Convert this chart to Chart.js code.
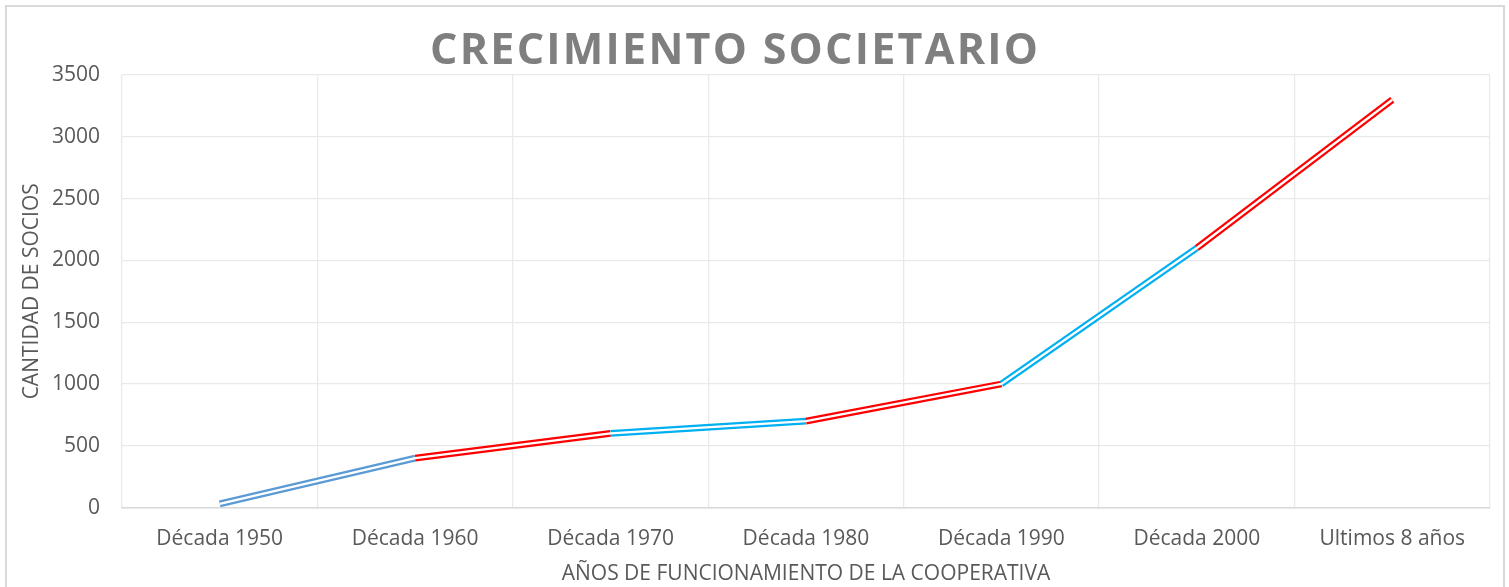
<!DOCTYPE html>
<html lang="es">
<head>
<meta charset="utf-8">
<title>Crecimiento societario</title>
<script src="https://cdn.jsdelivr.net/npm/chart.js@4.4.1/dist/chart.umd.min.js"></script>
<style>
    html, body {
        margin: 0;
        padding: 0;
        background: #ffffff;
        overflow: hidden;
    }
    #marco {
        position: absolute;
        left: 5px;
        top: 5px;
        width: 1496px;
        height: 600px;
        border: 2px solid #d9d9d9;
    }
    #contenedor {
        position: absolute;
        left: 0;
        top: 0;
        width: 1509px;
        height: 587px;
    }
</style>
</head>
<body>
<div id="marco"></div>
<div id="contenedor"><canvas id="graficoSocios"></canvas></div>
<script>
const titulo = 'CRECIMIENTO SOCIETARIO';
const categorias = ['Década 1950', 'Década 1960', 'Década 1970', 'Década 1980', 'Década 1990', 'Década 2000', 'Ultimos 8 años'];
const socios = [30, 400, 600, 700, 1000, 2100, 3300];
// color de cada tramo entre dos puntos
const coloresTramo = ['#5B9BD5', '#FF0000', '#00B0F0', '#FF0000', '#00B0F0', '#FF0000'];
const ejeY = { min: 0, max: 3500, paso: 500 };

const fuente = '"Open Sans", "DejaVu Sans", sans-serif';

// Título con letras espaciadas, ajustado a un ancho fijo
const tituloPlugin = {
    id: 'tituloEspaciado',
    afterDraw(chart) {
        const ctx = chart.ctx;
        ctx.save();
        ctx.font = 'bold 43px ' + fuente;
        ctx.fillStyle = '#7f7f7f';
        ctx.textBaseline = 'alphabetic';
        ctx.textAlign = 'left';
        ctx.letterSpacing = '0px';
        const ancho = ctx.measureText(titulo).width;
        const espacio = Math.max(0, (608 - ancho) / (titulo.length - 1));
        ctx.letterSpacing = espacio + 'px';
        ctx.fillText(titulo, 430, 64);
        ctx.restore();
    }
};

const ctx = document.getElementById('graficoSocios').getContext('2d');
new Chart(ctx, {
    type: 'line',
    data: {
        labels: categorias,
        datasets: [
            {
                // línea blanca interior: da el efecto de línea doble
                label: 'interior',
                data: socios,
                borderColor: '#ffffff',
                borderWidth: 2.3,
                pointRadius: 0,
                tension: 0,
                order: 0
            },
            {
                label: 'Socios',
                data: socios,
                borderWidth: 6.8,
                borderCapStyle: 'butt',
                pointRadius: 0,
                tension: 0,
                order: 1,
                segment: {
                    borderColor: c => coloresTramo[c.p0DataIndex]
                }
            }
        ]
    },
    options: {
        responsive: true,
        maintainAspectRatio: false,
        animation: false,
        layout: {
            padding: { top: 75, right: 19, bottom: 0, left: 19 }
        },
        plugins: {
            legend: { display: false },
            tooltip: { enabled: false }
        },
        scales: {
            x: {
                offset: true,
                grid: {
                    offset: true,
                    color: '#e9e9e9',
                    lineWidth: 1.3,
                    drawTicks: false
                },
                border: { color: '#d9d9d9', width: 1.5 },
                ticks: {
                    color: '#595959',
                    font: { family: fuente, size: 21 },
                    padding: 19
                },
                title: {
                    display: true,
                    text: 'AÑOS DE FUNCIONAMIENTO DE LA COOPERATIVA',
                    color: '#595959',
                    font: { family: fuente, size: 21 },
                    padding: { top: -9, bottom: 0 }
                }
            },
            y: {
                min: ejeY.min,
                max: ejeY.max,
                afterFit(scale) {
                    scale.width = 103;
                },
                grid: {
                    color: '#e9e9e9',
                    lineWidth: 1.3,
                    drawTicks: false
                },
                border: { display: false },
                ticks: {
                    stepSize: ejeY.paso,
                    color: '#595959',
                    font: { family: fuente, size: 21 },
                    padding: 22,
                    callback: v => String(v)
                },
                title: {
                    display: true,
                    text: 'CANTIDAD DE SOCIOS',
                    color: '#595959',
                    font: { family: fuente, size: 21 },
                    padding: { top: 0, bottom: 0 }
                }
            }
        }
    },
    plugins: [tituloPlugin]
});
</script>
</body>
</html>
